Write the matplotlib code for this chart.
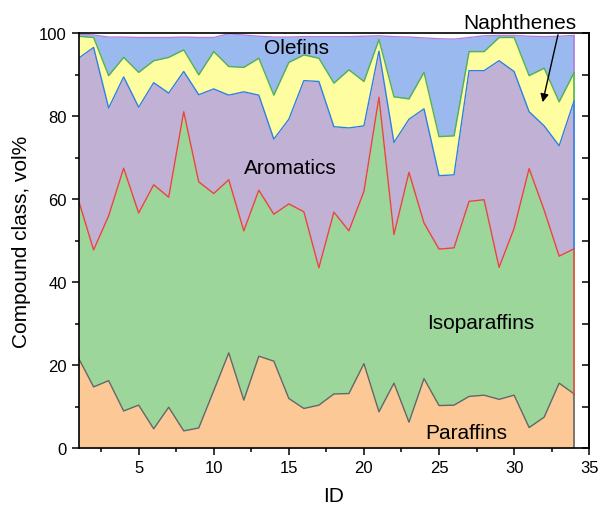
import numpy as np
import matplotlib
matplotlib.use("Agg")
import matplotlib.pyplot as plt
from matplotlib.ticker import MultipleLocator, NullFormatter

plt.rcParams['font.family'] = ['Liberation Sans', 'DejaVu Sans']

ids = np.arange(1, 35)
paraffins = [21.7, 14.8, 16.3, 9.0, 10.4, 4.7, 9.9, 4.2, 4.9, 13.9, 23.0, 11.6, 22.2, 21.0, 12.0, 9.6, 10.4,
             13.1, 13.2, 20.4, 8.8, 15.7, 6.3, 16.8, 10.3, 10.4, 12.5, 12.8, 11.8, 12.8, 5.0, 7.5, 15.7, 13.1]
isoparaffins = [38.0, 33.0, 39.7, 58.5, 46.3, 58.8, 50.6, 76.9, 59.3, 47.5, 41.7, 40.8, 40.0, 35.4, 46.9, 47.4, 33.1,
                43.8, 39.2, 41.5, 75.8, 35.8, 60.2, 37.5, 37.7, 37.9, 47.0, 47.1, 31.8, 40.2, 62.4, 49.9, 30.6, 35.0]
aromatics = [34.3, 48.8, 26.0, 22.0, 25.5, 24.6, 25.1, 9.7, 21.0, 25.2, 20.4, 33.5, 22.9, 18.1, 20.4, 31.6, 44.9,
             20.6, 24.8, 15.8, 11.1, 22.2, 12.8, 27.5, 17.7, 17.6, 31.5, 31.1, 49.8, 37.8, 13.7, 20.3, 26.6, 35.7]
naphthenes = [5.3, 2.4, 7.8, 4.7, 8.4, 5.3, 8.6, 5.2, 4.8, 9.0, 6.9, 5.9, 8.9, 10.6, 13.7, 6.2, 5.6,
              10.5, 14.0, 10.7, 2.8, 11.0, 4.9, 8.8, 9.4, 9.4, 4.6, 4.6, 5.6, 8.2, 8.7, 13.9, 10.6, 6.8]
olefins = [0.5, 0.6, 9.3, 4.9, 8.4, 5.6, 4.8, 3.1, 9.0, 3.4, 7.9, 7.8, 5.3, 14.0, 6.1, 4.4, 5.2,
           11.2, 8.0, 10.9, 0.9, 14.5, 14.9, 8.3, 23.6, 23.3, 3.4, 3.8, 0.5, 0.5, 9.5, 7.6, 15.8, 8.9]

names = ['Paraffins', 'Isoparaffins', 'Aromatics', 'Naphthenes', 'Olefins']
series = [paraffins, isoparaffins, aromatics, naphthenes, olefins]
fills = ['#FCC896', '#9DD69B', '#C1B1D5', '#FEFDA0', '#9AB9EF']
lines = ['#666666', '#E8453C', '#2F7FE6', '#52B152', '#B57FE0']

fig = plt.figure(figsize=(6, 5.1), dpi=100)
ax = fig.add_axes([0.131, 0.119, 0.851, 0.8137])

cum = np.cumsum(np.array(series), axis=0)
lower = np.zeros(len(ids))
for k in range(len(series)):
    upper = cum[k]
    ax.fill_between(ids, lower, upper, color=fills[k], linewidth=0, zorder=1)
    lower = upper
lower = np.zeros(len(ids))
for k in range(len(series)):
    upper = cum[k]
    ax.plot(ids, upper, color=lines[k], lw=1.0, zorder=3)
    ax.vlines(ids[-1], lower[-1], upper[-1], color=lines[k], lw=1.2, zorder=3)
    lower = upper

ax.set_xlim(1, 35)
ax.set_ylim(0, 100)
ax.xaxis.set_major_locator(MultipleLocator(5))
ax.xaxis.set_minor_locator(MultipleLocator(2.5))
ax.yaxis.set_major_locator(MultipleLocator(20))
ax.yaxis.set_minor_locator(MultipleLocator(10))
ax.tick_params(which='both', direction='out', top=False, right=False, labelsize=12, width=1.1)
ax.tick_params(which='major', length=5)
ax.tick_params(which='minor', length=2.6)
for s in ax.spines.values():
    s.set_linewidth(1.2)
    s.set_zorder(5)

sec = ax.secondary_yaxis('right')
sec.yaxis.set_major_locator(MultipleLocator(20))
sec.yaxis.set_minor_locator(MultipleLocator(10))
sec.yaxis.set_major_formatter(NullFormatter())
sec.tick_params(which='both', direction='in', width=1.1)
sec.tick_params(which='major', length=5)
sec.tick_params(which='minor', length=5)
sec.spines['right'].set_linewidth(1.2)

ax.set_xlabel('ID', fontsize=15, labelpad=8)
ax.set_ylabel('Compound class, vol%', fontsize=15, labelpad=6)

fs = 15
ax.text(15.5, 96.7, 'Olefins', fontsize=fs, ha='center', va='center', zorder=4)
ax.text(15.1, 67.7, 'Aromatics', fontsize=fs, ha='center', va='center', zorder=4)
ax.text(27.8, 30.4, 'Isoparaffins', fontsize=fs, ha='center', va='center', zorder=4)
ax.text(26.8, 3.9, 'Paraffins', fontsize=fs, ha='center', va='center', zorder=4)
ax.annotate('Naphthenes', xy=(31.9, 83.4), xytext=(30.4, 102.6), fontsize=fs,
            ha='center', va='center', annotation_clip=False, zorder=6,
            arrowprops=dict(arrowstyle='-|>', color='black', lw=1.0, shrinkA=0, shrinkB=0,
                            mutation_scale=12, relpos=(0.84, 0.0)))

fig.savefig('out.png', dpi=100)
